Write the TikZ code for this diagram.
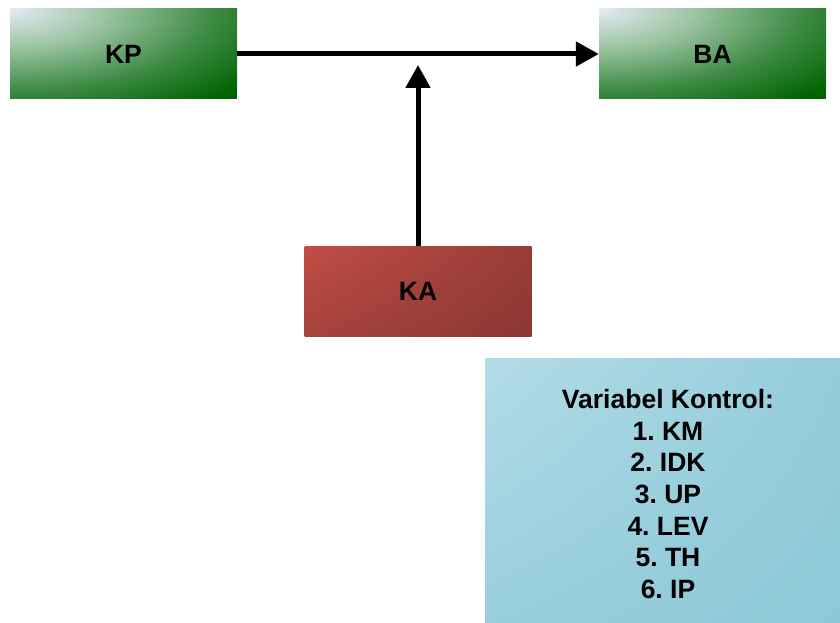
\documentclass[tikz,border=0pt]{standalone}
\usepackage{fontspec}
\setmainfont{Liberation Sans}
\frenchspacing
\usetikzlibrary{arrows.meta,shadings}
\definecolor{gA}{HTML}{E4EBF5}
\definecolor{gB}{HTML}{9CC4A2}
\definecolor{gC}{HTML}{3D8A44}
\definecolor{gD}{HTML}{006400}
\definecolor{rUL}{HTML}{C24D46}
\definecolor{rUR}{HTML}{983C37}
\definecolor{rLL}{HTML}{A6423D}
\definecolor{rLR}{HTML}{8B3733}
\definecolor{bUL}{HTML}{B3DCE7}
\definecolor{bUR}{HTML}{94CCDA}
\definecolor{bLL}{HTML}{98CEDC}
\definecolor{bLR}{HTML}{8BC8D8}
\pgfdeclareradialshading{greencorner}{\pgfpoint{0bp}{0bp}}{color(0bp)=(gA); color(8bp)=(gB); color(17bp)=(gC); color(25bp)=(gD); color(50bp)=(gD)}
\begin{document}
\frenchspacing
\begin{tikzpicture}[x=1pt,y=-1pt,
  box/.style={minimum width=227pt, minimum height=90pt, inner sep=0pt,
    font=\fontsize{26.5}{31.7}\selectfont\bfseries\frenchspacing, align=center},
  greenbox/.style={box, fill=gD, path picture={\shade[shading=greencorner]
    (path picture bounding box.north west) ellipse [x radius=300pt, y radius=120pt];}},
  redbox/.style={box, shade, upper left=rUL, upper right=rUR, lower left=rLL, lower right=rLR},
  bluebox/.style={box, minimum width=366pt, minimum height=272pt,
    shade, upper left=bUL, upper right=bUR, lower left=bLL, lower right=bLR},
  conn/.style={line width=5pt, -{Triangle[length=23pt,width=24pt]}}
]
\useasboundingbox (0,0) rectangle (840,623);
\node[greenbox] (KP) at (123.5,54) {KP};
\node[greenbox] (BA) at (712.5,54) {BA};
\node[redbox] (KA) at (418,291) {KA};
\node[bluebox] (VK) at (668,494) {Variabel Kontrol:\\1. KM\\2. IDK\\3. UP\\4. LEV\\5. TH\\6. IP};
\coordinate (tipKA) at (418,65);
\draw[conn] (KP.east) -- (BA.west);
\draw[conn] (KA.north) -- (tipKA);
\end{tikzpicture}
\end{document}
